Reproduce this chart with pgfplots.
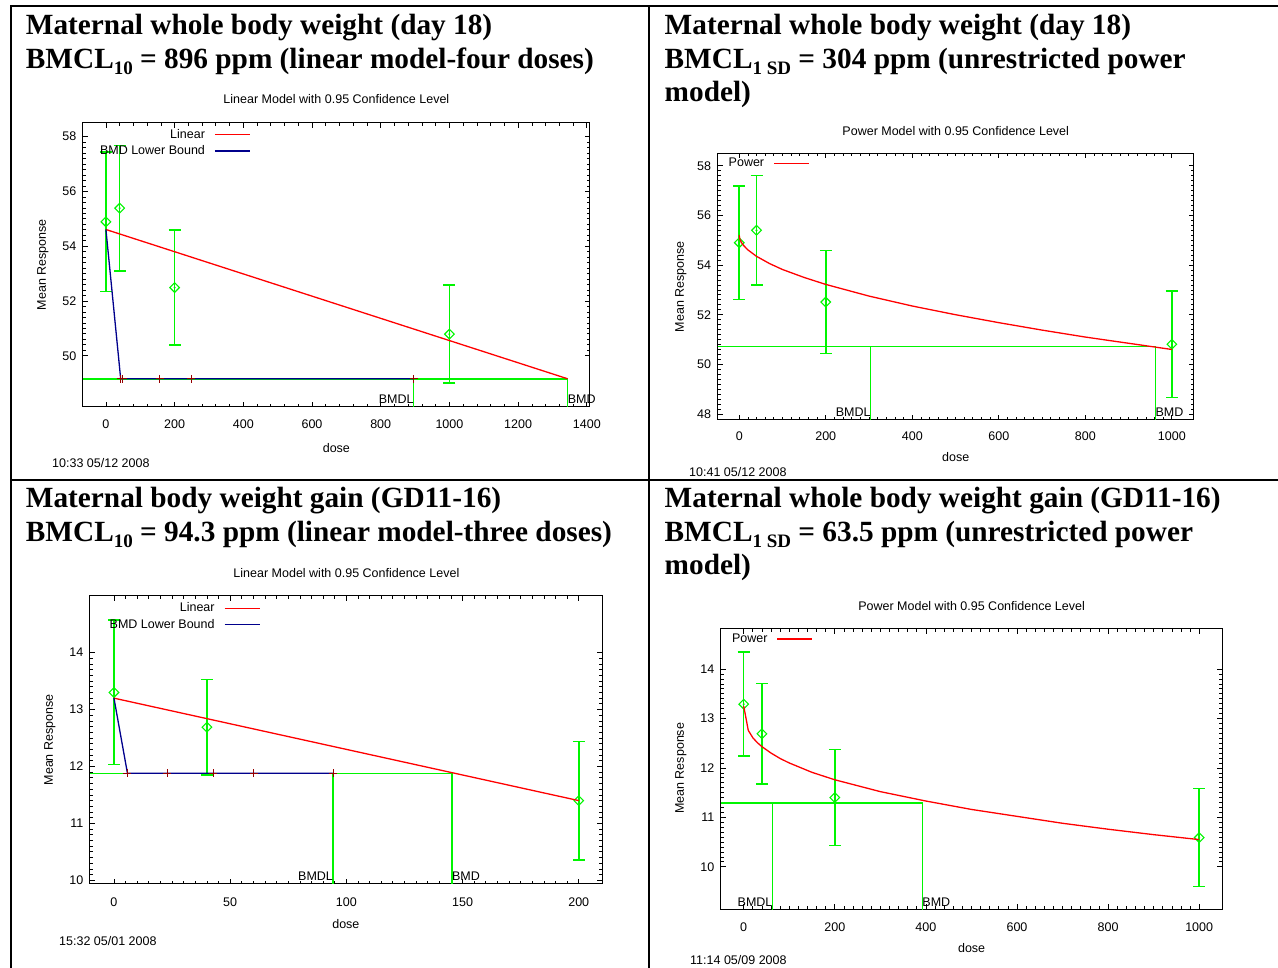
\documentclass[border=0pt]{standalone}
\usepackage{fontspec}
\setmainfont{Liberation Sans}
\newfontfamily\headfont{Liberation Serif}
\usepackage{pgfplots}
\pgfplotsset{compat=1.18}

\definecolor{grn}{RGB}{0,245,0}
\definecolor{rd}{RGB}{255,0,0}
\definecolor{nv}{RGB}{0,0,140}
\definecolor{drd}{RGB}{150,0,0}

\newcommand\hd{\headfont\bfseries\fontsize{29.3}{33}\selectfont}
\newcommand\sub[1]{\raisebox{-6pt}{\fontsize{19}{19}\selectfont #1}}
\newcommand\pf{\fontsize{12.5}{14}\selectfont}

\pgfplotsset{
  bmds/.style={
    scale only axis, anchor=north west,
    font=\pf,
    /pgf/number format/assume math mode=true,
    /pgf/number format/1000 sep={},
    axis line style={black, line width=1pt},
    tick align=inside,
    major tick length=5pt, minor tick length=3pt,
    every tick/.style={black, line width=0.7pt},
    clip mode=individual,
    xticklabel style={yshift=-10pt},
    yticklabel style={xshift=-3pt},
    title style={anchor=center, yshift=-6pt},
    legend plot pos=right,
    legend style={draw=none, fill=none, inner sep=0pt, row sep=2pt, font=\pf},
    legend image code/.code={\path[draw=none, fill=none] (0pt,0pt) -- (1pt,0pt);
      \draw[#1, line width=1.1pt] (8pt,0pt) -- (43pt,0pt);},
  },
  dat/.style={forget plot, grn, line width=1.5pt, only marks, mark=square, mark size=3.4pt,
    mark options={rotate=45, line width=1.1pt},
    error bars/y dir=both, error bars/y explicit, error bars/error mark=|,
    error bars/error bar style={grn, line width=1.5pt},
    error bars/error mark options={mark size=6pt, line width=1.5pt, grn}},
  dot/.style={forget plot, grn, only marks, mark=*, mark size=0.8pt},
  bml/.style={grn, line width=1.5pt, forget plot},
}

\begin{document}
\begin{tikzpicture}
\path[use as bounding box] (0pt,0pt) rectangle (1278pt,-968pt);

% table rules
\draw[line width=2.5pt] (10pt,-6pt) -- (1278pt,-6pt);
\draw[line width=2.5pt] (11pt,-6pt) -- (11pt,-968pt);
\draw[line width=2.5pt] (649pt,-6pt) -- (649pt,-968pt);
\draw[line width=2.5pt] (11pt,-480pt) -- (1278pt,-480pt);

% headings
\node[anchor=base west, inner sep=0pt] at (25.7pt,-35pt) {\hd Maternal whole body weight (day 18)};
\node[anchor=base west, inner sep=0pt] at (25.7pt,-68.3pt) {\hd BMCL\sub{10} = 896 ppm (linear model-four doses)};
\node[anchor=base west, inner sep=0pt] at (664.5pt,-35pt) {\hd Maternal whole body weight (day 18)};
\node[anchor=base west, inner sep=0pt] at (664.5pt,-68.3pt) {\hd BMCL\sub{1 SD} = 304 ppm (unrestricted power};
\node[anchor=base west, inner sep=0pt] at (664.5pt,-101.6pt) {\hd model)};
\node[anchor=base west, inner sep=0pt] at (25.7pt,-507.5pt) {\hd Maternal body weight gain (GD11-16)};
\node[anchor=base west, inner sep=0pt] at (25.7pt,-541pt) {\hd BMCL\sub{10} = 94.3 ppm (linear model-three doses)};
\node[anchor=base west, inner sep=0pt] at (664.5pt,-507.5pt) {\hd Maternal whole body weight gain (GD11-16)};
\node[anchor=base west, inner sep=0pt] at (664.5pt,-541pt) {\hd BMCL\sub{1 SD} = 63.5 ppm (unrestricted power};
\node[anchor=base west, inner sep=0pt] at (664.5pt,-574pt) {\hd model)};

% timestamps
\node[anchor=west, inner sep=0pt, font=\pf] at (52pt,-462.7pt) {10:33 05/12 2008};
\node[anchor=west, inner sep=0pt, font=\pf] at (689pt,-471.7pt) {10:41 05/12 2008};
\node[anchor=west, inner sep=0pt, font=\pf] at (59pt,-940.7pt) {15:32 05/01 2008};
\node[anchor=west, inner sep=0pt, font=\pf] at (690pt,-960.5pt) {11:14 05/09 2008};

% (1) linear, day 18 body weight
\begin{axis}[bmds, at={(82.9pt,-122.7pt)}, width=507pt, height=284pt,
  xmin=-67, xmax=1409, ymin=48.14, ymax=58.51,
  xtick={0,200,...,1400}, ytick={50,52,...,58},
  minor x tick num=4, minor y tick num=9,
  title={Linear Model with 0.95 Confidence Level},
  title style={at={(axis description cs:0.5,1.0845)}},
  xlabel={dose}, xlabel style={at={(axis description cs:0.5,-0.1444)}, anchor=center},
  ylabel={Mean Response}, ylabel style={at={(axis description cs:-0.0789,0.5)}, anchor=center},
  legend cell align=right,
  legend style={at={(0.331,0.985)}, anchor=north east}]
\addplot[bml] coordinates {(-67,49.16)(1344,49.16)(1344,40)};
\addplot[bml] coordinates {(896,49.16)(896,40)};
\addplot[dat] coordinates {(0,54.89) +- (0,2.55) (40,55.39) +- (0,2.29) (200,52.49) +- (0,2.1) (1000,50.79) +- (0,1.79)};
\addplot[dot] coordinates {(0,54.89)(40,55.39)(200,52.49)(1000,50.79)};
\addplot[rd, line width=1.3pt] coordinates {(0,54.61)(1344,49.16)};
\addlegendentry{Linear}
\addplot[nv, line width=1.3pt] coordinates {(0,54.61)(43,49.16)(896,49.16)};
\addlegendentry{BMD Lower Bound}
\addplot[drd, only marks, mark=+, mark size=4pt, mark options={line width=1pt}, forget plot] coordinates {(43,49.16)(49,49.16)(156,49.16)(249,49.16)(896,49.16)};
\node[anchor=base east, inner sep=0pt] at (axis cs:896,48.14) [yshift=3pt] {BMDL};
\node[anchor=base west, inner sep=0pt] at (axis cs:1344,48.14) [yshift=3pt] {BMD};
\end{axis}

% (2) power, day 18 body weight
\begin{axis}[bmds, at={(717.6pt,-153.3pt)}, width=476.3pt, height=266.7pt,
  xmin=-50, xmax=1051, ymin=47.76, ymax=58.5,
  xtick={0,200,...,1000}, ytick={48,50,...,58},
  minor x tick num=9, minor y tick num=9,
  xticklabel style={yshift=2pt},
  title={Power Model with 0.95 Confidence Level},
  title style={at={(axis description cs:0.5,1.0848)}},
  xlabel={dose}, xlabel style={at={(axis description cs:0.5,-0.1376)}, anchor=center},
  ylabel={Mean Response}, ylabel style={at={(axis description cs:-0.0773,0.5)}, anchor=center},
  legend cell align=left,
  legend style={at={(0.0187,0.99)}, anchor=north west}]
\addplot[bml] coordinates {(-50,50.71)(962,50.71)(962,40)};
\addplot[bml] coordinates {(304,50.71)(304,40)};
\addplot[dat] coordinates {(0,54.9) +- (0,2.28) (40,55.4) +- (0,2.2) (200,52.51) +- (0,2.08) (1000,50.81) +- (0,2.15)};
\addplot[dot] coordinates {(0,54.9)(40,55.4)(200,52.51)(1000,50.81)};
\addplot[rd, line width=1.3pt] coordinates {(0,55.2)(1,55.08)(2,55.02)(5,54.91)(10,54.79)(20,54.61)(40,54.35)(70,54.06)(100,53.82)(150,53.5)(200,53.22)(300,52.75)(400,52.35)(500,52.0)(600,51.68)(700,51.38)(800,51.1)(900,50.85)(1000,50.6)};
\addlegendentry{Power}
\node[anchor=base east, inner sep=0pt] at (axis cs:304,47.76) [yshift=3pt] {BMDL};
\node[anchor=base west, inner sep=0pt] at (axis cs:962,47.76) [yshift=3pt] {BMD};
\end{axis}

% (3) linear, body weight gain
\begin{axis}[bmds, at={(89.8pt,-595.7pt)}, width=512.2pt, height=288.3pt,
  xmin=-10.4, xmax=210, ymin=9.935, ymax=15,
  xtick={0,50,...,200}, ytick={10,11,...,14},
  minor x tick num=9, minor y tick num=9,
  title={Linear Model with 0.95 Confidence Level},
  title style={at={(axis description cs:0.501,1.0798)}},
  xlabel={dose}, xlabel style={at={(axis description cs:0.5,-0.1405)}, anchor=center},
  ylabel={Mean Response}, ylabel style={at={(axis description cs:-0.0781,0.5)}, anchor=center},
  legend cell align=right,
  legend style={at={(0.333,0.983)}, anchor=north east}]
\addplot[bml] coordinates {(-10.4,11.88)(145.4,11.88)(145.4,0)};
\addplot[bml] coordinates {(94.3,11.88)(94.3,0)};
\addplot[dat] coordinates {(0,13.3) +- (0,1.27) (40,12.69) +- (0,0.84) (200,11.4) +- (0,1.04)};
\addplot[dot] coordinates {(0,13.3)(40,12.69)(200,11.4)};
\addplot[rd, line width=1.3pt] coordinates {(0,13.2)(200,11.4)};
\addlegendentry{Linear}
\addplot[nv, line width=1.3pt] coordinates {(0,13.2)(5.8,11.88)(94.3,11.88)};
\addlegendentry{BMD Lower Bound}
\addplot[drd, only marks, mark=+, mark size=4pt, mark options={line width=1pt}, forget plot] coordinates {(5.8,11.88)(23,11.88)(42.8,11.88)(60.2,11.88)(94.3,11.88)};
\node[anchor=base east, inner sep=0pt] at (axis cs:94.3,9.935) [yshift=3pt] {BMDL};
\node[anchor=base west, inner sep=0pt] at (axis cs:145.4,9.935) [yshift=3pt] {BMD};
\end{axis}

% (4) power, body weight gain
\begin{axis}[bmds, at={(720.8pt,-629pt)}, width=501.6pt, height=280.3pt,
  xmin=-50.3, xmax=1051, ymin=9.14, ymax=14.81,
  xtick={0,200,...,1000}, ytick={10,11,...,14},
  minor x tick num=9, minor y tick num=9,
  title={Power Model with 0.95 Confidence Level},
  title style={at={(axis description cs:0.5,1.0831)}},
  xlabel={dose}, xlabel style={at={(axis description cs:0.5,-0.139)}, anchor=center},
  ylabel={Mean Response}, ylabel style={at={(axis description cs:-0.0797,0.503)}, anchor=center},
  legend cell align=left,
  legend style={at={(0.018,0.99)}, anchor=north west}]
\addplot[bml] coordinates {(-50.3,11.29)(392,11.29)(392,0)};
\addplot[bml] coordinates {(63.5,11.29)(63.5,0)};
\addplot[dat] coordinates {(0,13.29) +- (0,1.05) (40,12.69) +- (0,1.02) (200,11.4) +- (0,0.97) (1000,10.59) +- (0,0.99)};
\addplot[dot] coordinates {(0,13.29)(40,12.69)(200,11.4)(1000,10.59)};
\addplot[rd, line width=1.3pt] coordinates {(0,13.25)(10,12.76)(20,12.61)(30,12.51)(40,12.43)(60,12.3)(80,12.19)(100,12.1)(150,11.91)(200,11.76)(300,11.52)(400,11.33)(500,11.16)(600,11.02)(700,10.88)(800,10.76)(900,10.65)(1000,10.55)};
\addlegendentry{Power}
\node[anchor=base east, inner sep=0pt] at (axis cs:63.5,9.14) [yshift=3pt] {BMDL};
\node[anchor=base west, inner sep=0pt] at (axis cs:392,9.14) [yshift=3pt] {BMD};
\end{axis}
\end{tikzpicture}
\end{document}
